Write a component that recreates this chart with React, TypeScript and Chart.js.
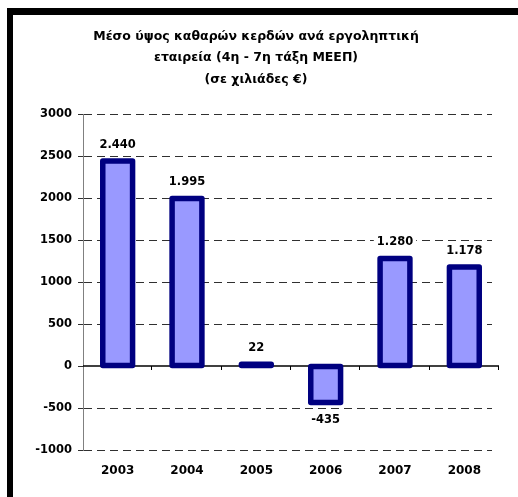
import React, { useEffect, useRef } from 'react';
import { Chart, registerables } from 'chart.js';

Chart.register(...registerables);

const categories = ['2003', '2004', '2005', '2006', '2007', '2008'];
const values = [2440, 1995, 22, -435, 1280, 1178];
const titleLines = [
  'Μέσο ύψος καθαρών κερδών ανά εργοληπτική',
  'εταιρεία (4η - 7η τάξη ΜΕΕΠ)',
  '(σε χιλιάδες €)',
];
const yMin = -1000;
const yMax = 3000;
const yStep = 500;

const FONT = '"DejaVu Sans", Verdana, sans-serif';
const BAR_FILL = '#9999FF';
const BAR_EDGE = '#000080';
const EDGE_WIDTH = 5.5;

function formatValue(v: number): string {
  const sign = v < 0 ? '-' : '';
  const s = String(Math.abs(v));
  return sign + s.replace(/\B(?=(\d{3})+(?!\d))/g, '.');
}

const gridPlugin = {
  id: 'dashGrid',
  beforeDatasetsDraw(chart: any) {
    const { ctx, chartArea, scales } = chart;
    const y = scales.y;
    ctx.save();
    ctx.lineWidth = 1;
    ctx.strokeStyle = '#303030';
    ctx.setLineDash([8, 5]);
    y.ticks.forEach((t: any) => {
      if (t.value === 0) return;
      const py = Math.round(y.getPixelForValue(t.value)) + 0.5;
      ctx.beginPath();
      ctx.moveTo(chartArea.left + 1, py);
      ctx.lineTo(chartArea.right - 7, py);
      ctx.stroke();
    });
    ctx.setLineDash([]);
    const zy = Math.round(y.getPixelForValue(0));
    ctx.strokeStyle = '#000000';
    ctx.lineWidth = 1.5;
    ctx.beginPath();
    ctx.moveTo(chartArea.left, zy);
    ctx.lineTo(chartArea.right, zy);
    ctx.stroke();
    const w = (chartArea.right - chartArea.left) / categories.length;
    ctx.lineWidth = 1;
    for (let i = 1; i <= categories.length; i++) {
      const px = Math.round(chartArea.left + i * w) - 0.5;
      ctx.beginPath();
      ctx.moveTo(px, zy);
      ctx.lineTo(px, zy + 4);
      ctx.stroke();
    }
    ctx.restore();
  },
};

// Excel-style bar outline: stroke centred on each bar element's edges
const edgePlugin = {
  id: 'barEdges',
  afterDatasetsDraw(chart: any) {
    const { ctx } = chart;
    const meta = chart.getDatasetMeta(0);
    ctx.save();
    ctx.strokeStyle = BAR_EDGE;
    ctx.lineWidth = EDGE_WIDTH;
    ctx.lineJoin = 'round';
    meta.data.forEach((el: any) => {
      const left = el.x - el.width / 2;
      const top = Math.min(el.y, el.base);
      const h = Math.abs(el.base - el.y);
      ctx.beginPath();
      ctx.rect(left, top, el.width, h);
      ctx.stroke();
    });
    ctx.restore();
  },
};

const labelPlugin = {
  id: 'valueLabels',
  afterDatasetsDraw(chart: any) {
    const { ctx } = chart;
    const meta = chart.getDatasetMeta(0);
    ctx.save();
    ctx.font = `bold 11.5px ${FONT}`;
    ctx.textAlign = 'center';
    ctx.textBaseline = 'middle';
    meta.data.forEach((el: any, i: number) => {
      const v = values[i];
      const yy = v >= 0 ? el.y - 16 : el.y + 17;
      const text = formatValue(v);
      const tw = ctx.measureText(text).width;
      ctx.fillStyle = '#ffffff';
      ctx.fillRect(el.x - tw / 2 - 3, yy - 7, tw + 6, 14);
      ctx.fillStyle = '#000000';
      ctx.fillText(text, el.x, yy);
    });
    ctx.restore();
  },
};

export default function App() {
  const canvasRef = useRef<HTMLCanvasElement | null>(null);

  useEffect(() => {
    if (!canvasRef.current) return;
    const chart = new Chart(canvasRef.current, {
      type: 'bar',
      data: {
        labels: categories,
        datasets: [
          {
            data: values,
            backgroundColor: BAR_FILL,
            borderWidth: 0,
            barPercentage: 0.43,
            categoryPercentage: 1,
          },
        ],
      },
      options: {
        responsive: false,
        animation: false,
        devicePixelRatio: 1,
        layout: { padding: { top: 15, left: 13, right: 19, bottom: 0 } },
        plugins: {
          legend: { display: false },
          tooltip: { enabled: false },
          title: {
            display: true,
            text: titleLines,
            color: '#000000',
            font: { family: FONT, size: 12.5, weight: 'bold', lineHeight: 1.72 },
            padding: { top: 10.5, bottom: 24 },
          },
        },
        scales: {
          x: {
            grid: { display: false, drawTicks: false },
            border: { display: false },
            ticks: {
              color: '#000000',
              font: { family: FONT, size: 12, weight: 'bold' },
              padding: 14,
              maxRotation: 0,
            },
            afterFit(scale: any) {
              scale.height = 47;
            },
          },
          y: {
            min: yMin,
            max: yMax,
            grid: {
              drawOnChartArea: false,
              drawTicks: true,
              tickLength: 5,
              tickColor: '#303030',
            },
            border: { display: true, color: '#808080', width: 1 },
            ticks: {
              stepSize: yStep,
              color: '#000000',
              font: { family: FONT, size: 11.5, weight: 'bold' },
              padding: 6,
              callback: (v: any) => String(v),
            },
            afterFit(scale: any) {
              scale.width = 70;
            },
          },
        },
      },
      plugins: [gridPlugin, edgePlugin, labelPlugin],
    });
    return () => chart.destroy();
  }, []);

  return (
    <div style={{ position: 'fixed', left: 0, top: 0, width: 518, height: 497, background: '#ffffff' }}>
      <canvas ref={canvasRef} width={518} height={497} style={{ position: 'absolute', left: 0, top: 0 }} />
      <div style={{ position: 'absolute', left: 7, top: 8, width: 511, height: 7, background: '#000000' }} />
      <div style={{ position: 'absolute', left: 7, top: 8, width: 6, height: 489, background: '#000000' }} />
    </div>
  );
}
